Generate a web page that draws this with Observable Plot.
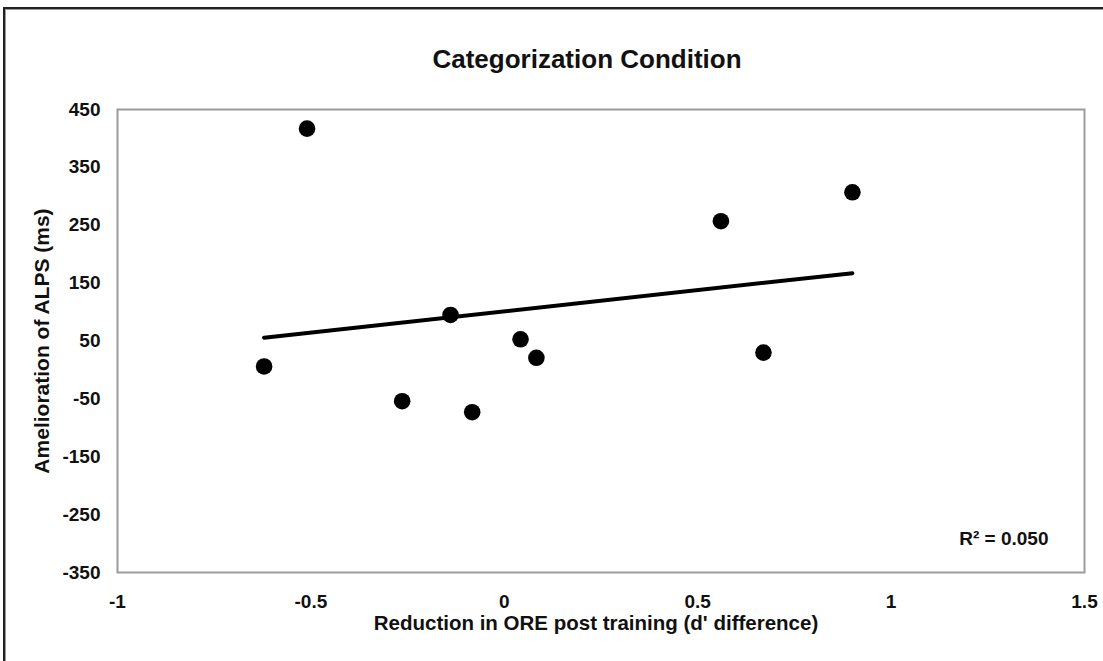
<!DOCTYPE html>
<html>
<head>
<meta charset="utf-8">
<script src="https://cdn.jsdelivr.net/npm/d3@7"></script>
<script src="https://cdn.jsdelivr.net/npm/@observablehq/plot@0.6"></script>
<style>
  html, body { margin: 0; padding: 0; background: #fff; }
  #wrap { position: relative; width: 1103px; height: 661px; overflow: hidden; font-family: "Liberation Sans", Arial, sans-serif; }
  #border { position: absolute; left: 3px; top: 7px; width: 1200px; height: 800px; border-top: 2px solid #222; border-left: 2px solid #222; box-shadow: inset 1px 1px 0 #999; }
  #title { position: absolute; left: 587px; top: 46px; transform: translateX(-50%); font-size: 26px; line-height: 26px; font-weight: bold; color: #111; white-space: nowrap; }
  #chart { position: absolute; left: 0; top: 0; }
</style>
</head>
<body>
<div id="wrap">
  <div id="border"></div>
  <div id="title">Categorization Condition</div>
  <div id="chart"></div>
</div>
<script>
// Data
const xValues = [-0.621, -0.510, -0.264, -0.139, -0.083, 0.042, 0.083, 0.560, 0.670, 0.900];
const yValues = [6, 417, -54, 95, -73, 53, 21, 257, 30, 307];
const xTicks = [-1, -0.5, 0, 0.5, 1, 1.5];
const yTicks = [-350, -250, -150, -50, 50, 150, 250, 350, 450];
const xLabel = "Reduction in ORE post training (d' difference)";
const yLabel = "Amelioration of ALPS (ms)";
const r2Label = "R² = 0.050";

const data = xValues.map((x, i) => ({x, y: yValues[i]}));

const chart = Plot.plot({
  width: 1103,
  height: 661,
  marginLeft: 117,
  marginRight: 19,
  marginTop: 109,
  marginBottom: 89,
  style: {fontFamily: "'Liberation Sans', Arial, sans-serif", fontSize: "19px", fontWeight: "bold", color: "#111", background: "transparent", overflow: "visible"},
  x: {domain: [-1, 1.5], ticks: xTicks, tickFormat: d => String(d)},
  y: {domain: [-350, 450], ticks: yTicks, tickFormat: d => String(d)},
  marks: [
    Plot.frame({stroke: "#9c9c9c", strokeWidth: 2}),
    Plot.axisX({ticks: xTicks, tickSize: 0, tickPadding: 22, label: null, tickFormat: d => String(d)}),
    Plot.axisY({ticks: yTicks, tickSize: 0, tickPadding: 17, label: null, tickFormat: d => String(d)}),
    Plot.linearRegressionY(data, {x: "x", y: "y", stroke: "#000", strokeWidth: 4, ci: 0, strokeLinecap: "round"}),
    Plot.dot(data, {x: "x", y: "y", r: 8.3, fill: "#000", stroke: "none"}),
    Plot.text([xLabel], {text: d => d, frameAnchor: "bottom", dy: 57, dx: -5, fontSize: 20.5, fontWeight: "bold", fill: "#111"}),
    Plot.text([yLabel], {text: d => d, frameAnchor: "left", textAnchor: "middle", dx: -75, rotate: -90, fontSize: 21, fontWeight: "bold", fill: "#111"}),
    Plot.text([r2Label], {text: d => d, frameAnchor: "bottom-right", textAnchor: "end", dx: -36, dy: -28, fontSize: 19, fontWeight: "bold", fill: "#111"})
  ]
});
document.getElementById("chart").appendChild(chart);
</script>
</body>
</html>
